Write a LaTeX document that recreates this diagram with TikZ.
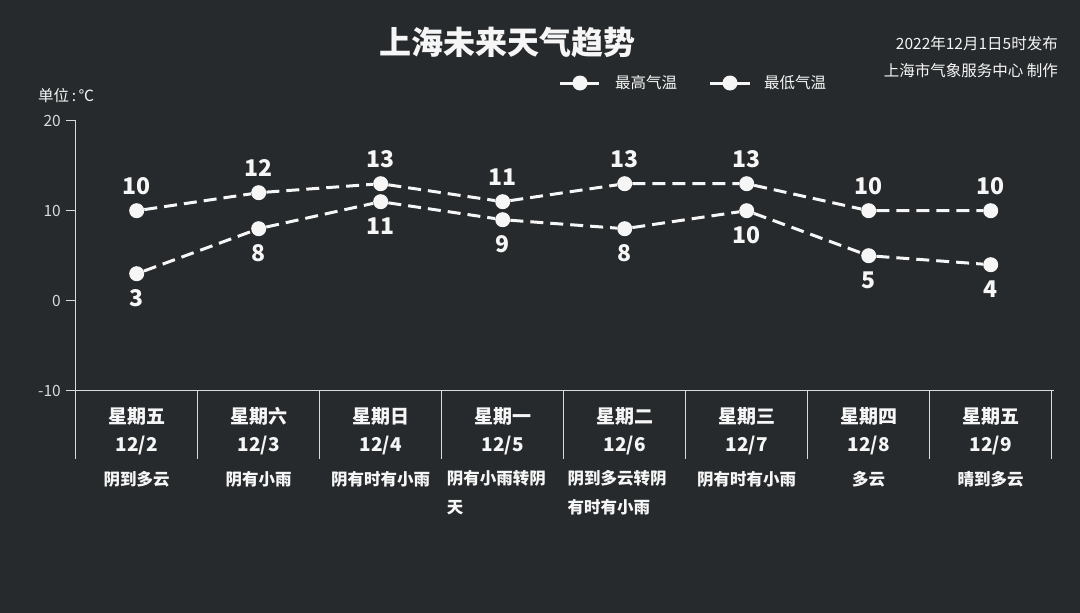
\documentclass[tikz,border=0pt]{standalone}
\usepackage{fontspec}
\setmainfont{Noto Sans CJK SC}
\usetikzlibrary{positioning}
\definecolor{bgdark}{RGB}{38,42,44}
\definecolor{txtwhite}{RGB}{246,246,246}
\definecolor{axisgray}{RGB}{218,218,218}
\def\fs#1#2{\fontsize{#1}{#2}\selectfont}
\tikzset{
	dot/.style={circle, fill=txtwhite, inner sep=0pt, minimum size=15pt},
	trend/.style={draw=txtwhite, line width=3pt, dash pattern=on 13pt off 7pt},
	legline/.style={draw=txtwhite, line width=3pt},
	axisline/.style={draw=axisgray, line width=1pt},
	vallabel/.style={text=txtwhite, inner sep=0pt, font=\fs{23}{26}\bfseries},
	ticklabel/.style={text=axisgray, inner sep=0pt, anchor=east, font=\fs{15.5}{18}},
	smalltext/.style={text=txtwhite, inner sep=0pt, font=\fs{15.5}{18}},
	daytext/.style={text=txtwhite, inner sep=0pt, font=\fs{19}{22}\bfseries},
	wxtext/.style={text=txtwhite, inner sep=0pt, font=\fs{16.5}{28.7}\bfseries}
}

\begin{document}
\begin{tikzpicture}[x=1pt, y=-1pt]
		%%%%% START %%%%%
		
		\fill[bgdark] (0, 0) rectangle (1080, 613);
		
		% heading
		\node[text=txtwhite, inner sep=0pt, font=\fs{32}{36}\bfseries] (title) at (507, 42) {上海未来天气趋势};
		\node[smalltext, anchor=east] (issued) at (1058, 44) {2022年12月1日5时发布};
		\node[smalltext, anchor=east] (maker) at (1058, 71) {上海市气象服务中心 制作};
		\node[smalltext, anchor=west] (unit) at (38, 96) {单位\,:\,℃};
		
		% legend
		\coordinate (leghiA) at (560, 83);
		\coordinate (leghiB) at (599, 83);
		\draw[legline] (leghiA) -- (leghiB);
		\node[dot] (leghi) at (580, 83) {};
		\node[smalltext, anchor=west] (leghitext) at (615, 83) {最高气温};
		\coordinate (legloA) at (710, 83);
		\coordinate (legloB) at (750, 83);
		\draw[legline] (legloA) -- (legloB);
		\node[dot] (leglo) at (730, 83) {};
		\node[smalltext, anchor=west] (leglotext) at (764, 83) {最低气温};
		
		% axes
		\draw[axisline] (75.7, 120.7) -- (75.7, 459.3);
		\draw[axisline] (65.7, 120.7) -- (75.7, 120.7);
		\draw[axisline] (65.7, 210.7) -- (75.7, 210.7);
		\draw[axisline] (65.7, 300.7) -- (75.7, 300.7);
		\draw[axisline] (65.7, 390.7) -- (1054, 390.7);
		\draw[axisline] (197.7, 390.7) -- (197.7, 459.3);
		\draw[axisline] (319.7, 390.7) -- (319.7, 459.3);
		\draw[axisline] (441.7, 390.7) -- (441.7, 459.3);
		\draw[axisline] (563.7, 390.7) -- (563.7, 459.3);
		\draw[axisline] (685.7, 390.7) -- (685.7, 459.3);
		\draw[axisline] (807.7, 390.7) -- (807.7, 459.3);
		\draw[axisline] (929.7, 390.7) -- (929.7, 459.3);
		\draw[axisline] (1051.7, 390.7) -- (1051.7, 459.3);
		
		\node[ticklabel] (tk20) at (61, 120.7) {20};
		\node[ticklabel] (tk10) at (61, 210.7) {10};
		\node[ticklabel] (tk0) at (61, 300.7) {0};
		\node[ticklabel] (tkm10) at (61, 390.7) {-10};
		
		% highest temperature
		\node[dot] (hi1) at (136.7, 210.7) {};
		\node[dot] (hi2) at (258.7, 192.7) {};
		\node[dot] (hi3) at (380.7, 183.7) {};
		\node[dot] (hi4) at (502.7, 201.7) {};
		\node[dot] (hi5) at (624.7, 183.7) {};
		\node[dot] (hi6) at (746.7, 183.7) {};
		\node[dot] (hi7) at (868.7, 210.7) {};
		\node[dot] (hi8) at (990.7, 210.7) {};
		\draw[trend] (hi1) -- (hi2) -- (hi3) -- (hi4) -- (hi5) -- (hi6) -- (hi7) -- (hi8);
		
		\node[vallabel, above=8pt of hi1] (hitx1) {10};
		\node[vallabel, above=8pt of hi2] (hitx2) {12};
		\node[vallabel, above=8pt of hi3] (hitx3) {13};
		\node[vallabel, above=8pt of hi4] (hitx4) {11};
		\node[vallabel, above=8pt of hi5] (hitx5) {13};
		\node[vallabel, above=8pt of hi6] (hitx6) {13};
		\node[vallabel, above=8pt of hi7] (hitx7) {10};
		\node[vallabel, above=8pt of hi8] (hitx8) {10};
		
		% lowest temperature
		\node[dot] (lo1) at (136.7, 273.7) {};
		\node[dot] (lo2) at (258.7, 228.7) {};
		\node[dot] (lo3) at (380.7, 201.7) {};
		\node[dot] (lo4) at (502.7, 219.7) {};
		\node[dot] (lo5) at (624.7, 228.7) {};
		\node[dot] (lo6) at (746.7, 210.7) {};
		\node[dot] (lo7) at (868.7, 255.7) {};
		\node[dot] (lo8) at (990.7, 264.7) {};
		\draw[trend] (lo1) -- (lo2) -- (lo3) -- (lo4) -- (lo5) -- (lo6) -- (lo7) -- (lo8);
		
		\node[vallabel, below=8pt of lo1] (lotx1) {3};
		\node[vallabel, below=8pt of lo2] (lotx2) {8};
		\node[vallabel, below=8pt of lo3] (lotx3) {11};
		\node[vallabel, below=8pt of lo4] (lotx4) {9};
		\node[vallabel, below=8pt of lo5] (lotx5) {8};
		\node[vallabel, below=8pt of lo6] (lotx6) {10};
		\node[vallabel, below=8pt of lo7] (lotx7) {5};
		\node[vallabel, below=8pt of lo8] (lotx8) {4};
		
		% days
		\node[daytext] (day1) at (136.7, 416) {星期五};
		\node[daytext] (day2) at (258.7, 416) {星期六};
		\node[daytext] (day3) at (380.7, 416) {星期日};
		\node[daytext] (day4) at (502.7, 416) {星期一};
		\node[daytext] (day5) at (624.7, 416) {星期二};
		\node[daytext] (day6) at (746.7, 416) {星期三};
		\node[daytext] (day7) at (868.7, 416) {星期四};
		\node[daytext] (day8) at (990.7, 416) {星期五};
		
		\node[daytext] (date1) at (136.7, 445.7) {12/2};
		\node[daytext] (date2) at (258.7, 445.7) {12/3};
		\node[daytext] (date3) at (380.7, 445.7) {12/4};
		\node[daytext] (date4) at (502.7, 445.7) {12/5};
		\node[daytext] (date5) at (624.7, 445.7) {12/6};
		\node[daytext] (date6) at (746.7, 445.7) {12/7};
		\node[daytext] (date7) at (868.7, 445.7) {12/8};
		\node[daytext] (date8) at (990.7, 445.7) {12/9};
		
		% weather
		\node[wxtext] (wx1) at (136.7, 479) {阴到多云};
		\node[wxtext] (wx2) at (258.7, 479) {阴有小雨};
		\node[wxtext] (wx3) at (380.7, 479) {阴有时有小雨};
		\node[wxtext, anchor=north west, align=left] (wx4) at (446.7, 470.5) {阴有小雨转阴\\天};
		\node[wxtext, anchor=north west, align=left] (wx5) at (567.5, 470.5) {阴到多云转阴\\有时有小雨};
		\node[wxtext] (wx6) at (746.7, 479) {阴有时有小雨};
		\node[wxtext] (wx7) at (868.7, 479) {多云};
		\node[wxtext] (wx8) at (990.7, 479) {晴到多云};
		
		%%%%% END %%%%%
	\end{tikzpicture}
\end{document}
